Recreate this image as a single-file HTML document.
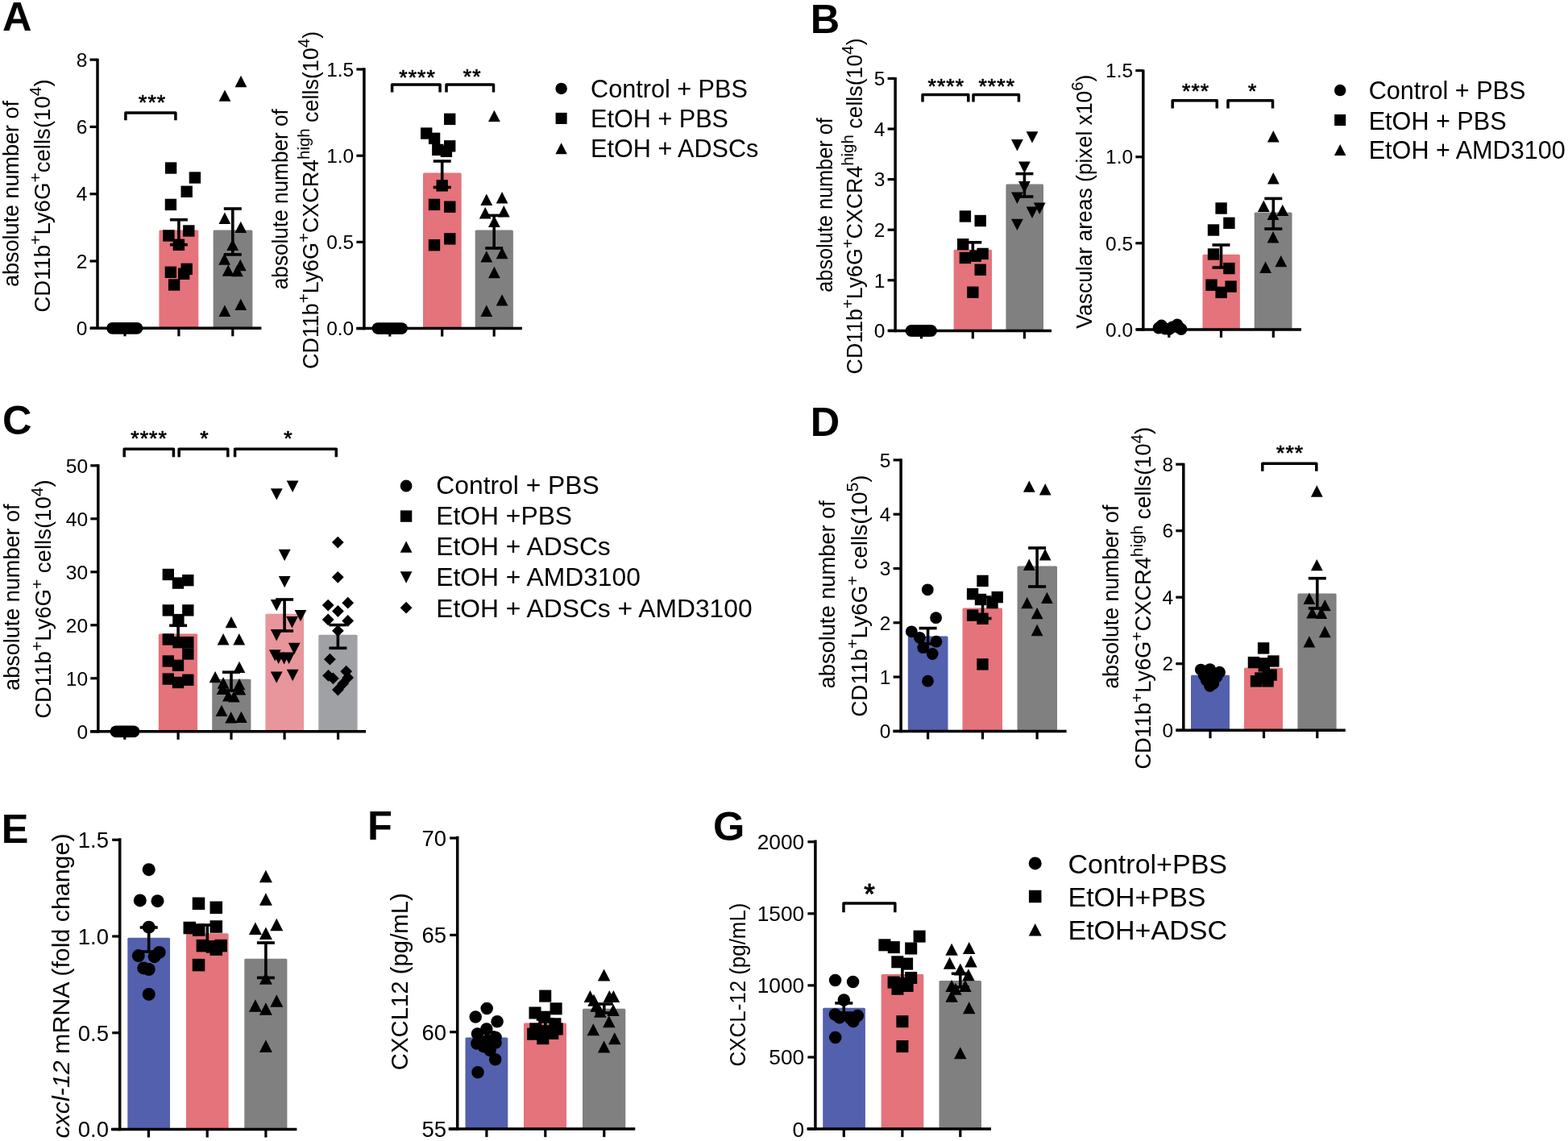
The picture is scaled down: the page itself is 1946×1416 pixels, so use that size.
<!DOCTYPE html>
<html><head><meta charset="utf-8"><title>Figure</title>
<style>html,body{margin:0;padding:0;background:#fff;}svg{display:block;}</style>
</head><body>
<svg width="1946" height="1416" viewBox="0 0 1946 1416" font-family="Liberation Sans, Arial, Helvetica, sans-serif">
<rect width="1946" height="1416" fill="#fff"/>
<rect x="197.4" y="285.5" width="48.9" height="121.8" fill="#E4737B" rx="1.5"/>
<rect x="264.6" y="285.5" width="48.8" height="121.8" fill="#808080" rx="1.5"/>
<line x1="121" y1="72.8" x2="121" y2="409.05" stroke="#000" stroke-width="3.5"/>
<line x1="112" y1="407.3" x2="324.4" y2="407.3" stroke="#000" stroke-width="3.5"/>
<line x1="111.5" y1="407.3" x2="121" y2="407.3" stroke="#000" stroke-width="3.2"/>
<text x="108.3" y="416.07" font-size="24.5" text-anchor="end">0</text>
<line x1="111.5" y1="324" x2="121" y2="324" stroke="#000" stroke-width="3.2"/>
<text x="108.3" y="332.77" font-size="24.5" text-anchor="end">2</text>
<line x1="111.5" y1="240.7" x2="121" y2="240.7" stroke="#000" stroke-width="3.2"/>
<text x="108.3" y="249.47" font-size="24.5" text-anchor="end">4</text>
<line x1="111.5" y1="157.4" x2="121" y2="157.4" stroke="#000" stroke-width="3.2"/>
<text x="108.3" y="166.17" font-size="24.5" text-anchor="end">6</text>
<line x1="111.5" y1="74.1" x2="121" y2="74.1" stroke="#000" stroke-width="3.2"/>
<text x="108.3" y="82.87" font-size="24.5" text-anchor="end">8</text>
<line x1="155" y1="407.3" x2="155" y2="417.3" stroke="#000" stroke-width="3.2"/>
<line x1="221.9" y1="407.3" x2="221.9" y2="417.3" stroke="#000" stroke-width="3.2"/>
<line x1="288.8" y1="407.3" x2="288.8" y2="417.3" stroke="#000" stroke-width="3.2"/>
<line x1="221.9" y1="272.7" x2="221.9" y2="303.7" stroke="#000" stroke-width="3.6"/>
<line x1="210.9" y1="272.7" x2="232.9" y2="272.7" stroke="#000" stroke-width="3.6"/>
<line x1="210.9" y1="303.7" x2="232.9" y2="303.7" stroke="#000" stroke-width="3.6"/>
<line x1="288.8" y1="259" x2="288.8" y2="315.9" stroke="#000" stroke-width="3.6"/>
<line x1="277.8" y1="259" x2="299.8" y2="259" stroke="#000" stroke-width="3.6"/>
<line x1="277.8" y1="315.9" x2="299.8" y2="315.9" stroke="#000" stroke-width="3.6"/>
<g fill="#000">
<circle cx="139.5" cy="407.3" r="7.4"/>
<circle cx="142.89" cy="407.3" r="7.4"/>
<circle cx="146.28" cy="407.3" r="7.4"/>
<circle cx="149.67" cy="407.3" r="7.4"/>
<circle cx="153.06" cy="407.3" r="7.4"/>
<circle cx="156.44" cy="407.3" r="7.4"/>
<circle cx="159.83" cy="407.3" r="7.4"/>
<circle cx="163.22" cy="407.3" r="7.4"/>
<circle cx="166.61" cy="407.3" r="7.4"/>
<circle cx="170" cy="407.3" r="7.4"/>
<rect x="204.92" y="201.32" width="14.36" height="14.36"/>
<rect x="234.72" y="213.32" width="14.36" height="14.36"/>
<rect x="224.52" y="230.62" width="14.36" height="14.36"/>
<rect x="204.72" y="246.72" width="14.36" height="14.36"/>
<rect x="202.22" y="285.32" width="14.36" height="14.36"/>
<rect x="227.12" y="279.32" width="14.36" height="14.36"/>
<rect x="214.72" y="296.62" width="14.36" height="14.36"/>
<rect x="204.72" y="330.62" width="14.36" height="14.36"/>
<rect x="224.52" y="326.72" width="14.36" height="14.36"/>
<rect x="220.92" y="332.62" width="14.36" height="14.36"/>
<rect x="208.92" y="346.32" width="14.36" height="14.36"/>
<path d="M279 111.42L286.4 125.78L271.6 125.78Z"/>
<path d="M299 93.82L306.4 108.18L291.6 108.18Z"/>
<path d="M278.9 263.52L286.3 277.88L271.5 277.88Z"/>
<path d="M298.8 274.72L306.2 289.08L291.4 289.08Z"/>
<path d="M288.7 296.62L296.1 310.98L281.3 310.98Z"/>
<path d="M278.6 314.32L286 328.68L271.2 328.68Z"/>
<path d="M283.2 328.32L290.6 342.68L275.8 342.68Z"/>
<path d="M298.3 321.82L305.7 336.18L290.9 336.18Z"/>
<path d="M294.4 328.82L301.8 343.18L287 343.18Z"/>
<path d="M278.9 378.52L286.3 392.88L271.5 392.88Z"/>
<path d="M298.8 370.72L306.2 385.08L291.4 385.08Z"/>
</g>
<path d="M155.9 149.3V140H217.9V149.3" fill="none" stroke="#000" stroke-width="3.5" stroke-linejoin="round"/>
<text x="189.15" y="135.79" font-size="26.5" text-anchor="middle" stroke="#000" stroke-width="0.7" stroke-linejoin="round" letter-spacing="1.1">***</text>
<rect x="525" y="214.5" width="47.7" height="193.1" fill="#E4737B" rx="1.5"/>
<rect x="589.7" y="285.5" width="47.2" height="122.1" fill="#808080" rx="1.5"/>
<line x1="451.9" y1="84.2" x2="451.9" y2="409.35" stroke="#000" stroke-width="3.5"/>
<line x1="442.5" y1="407.6" x2="647.9" y2="407.6" stroke="#000" stroke-width="3.5"/>
<line x1="442.4" y1="407.6" x2="451.9" y2="407.6" stroke="#000" stroke-width="3.2"/>
<text x="439.2" y="416.37" font-size="24.5" text-anchor="end">0.0</text>
<line x1="442.4" y1="300.4" x2="451.9" y2="300.4" stroke="#000" stroke-width="3.2"/>
<text x="439.2" y="309.17" font-size="24.5" text-anchor="end">0.5</text>
<line x1="442.4" y1="193.2" x2="451.9" y2="193.2" stroke="#000" stroke-width="3.2"/>
<text x="439.2" y="201.97" font-size="24.5" text-anchor="end">1.0</text>
<line x1="442.4" y1="86" x2="451.9" y2="86" stroke="#000" stroke-width="3.2"/>
<text x="439.2" y="94.77" font-size="24.5" text-anchor="end">1.5</text>
<line x1="483.8" y1="407.6" x2="483.8" y2="417.6" stroke="#000" stroke-width="3.2"/>
<line x1="548.7" y1="407.6" x2="548.7" y2="417.6" stroke="#000" stroke-width="3.2"/>
<line x1="613.2" y1="407.6" x2="613.2" y2="417.6" stroke="#000" stroke-width="3.2"/>
<line x1="548.7" y1="200" x2="548.7" y2="232.5" stroke="#000" stroke-width="3.6"/>
<line x1="537.7" y1="200" x2="559.7" y2="200" stroke="#000" stroke-width="3.6"/>
<line x1="537.7" y1="232.5" x2="559.7" y2="232.5" stroke="#000" stroke-width="3.6"/>
<line x1="613.2" y1="267.4" x2="613.2" y2="308" stroke="#000" stroke-width="3.6"/>
<line x1="602.2" y1="267.4" x2="624.2" y2="267.4" stroke="#000" stroke-width="3.6"/>
<line x1="602.2" y1="308" x2="624.2" y2="308" stroke="#000" stroke-width="3.6"/>
<g fill="#000">
<circle cx="469" cy="407.6" r="7.4"/>
<circle cx="472.28" cy="407.6" r="7.4"/>
<circle cx="475.56" cy="407.6" r="7.4"/>
<circle cx="478.83" cy="407.6" r="7.4"/>
<circle cx="482.11" cy="407.6" r="7.4"/>
<circle cx="485.39" cy="407.6" r="7.4"/>
<circle cx="488.67" cy="407.6" r="7.4"/>
<circle cx="491.94" cy="407.6" r="7.4"/>
<circle cx="495.22" cy="407.6" r="7.4"/>
<circle cx="498.5" cy="407.6" r="7.4"/>
<rect x="551.02" y="140.62" width="14.36" height="14.36"/>
<rect x="522.02" y="158.32" width="14.36" height="14.36"/>
<rect x="531.92" y="164.62" width="14.36" height="14.36"/>
<rect x="536.12" y="178.72" width="14.36" height="14.36"/>
<rect x="551.02" y="174.12" width="14.36" height="14.36"/>
<rect x="546.72" y="180.62" width="14.36" height="14.36"/>
<rect x="541.52" y="223.22" width="14.36" height="14.36"/>
<rect x="531.82" y="246.72" width="14.36" height="14.36"/>
<rect x="551.12" y="249.52" width="14.36" height="14.36"/>
<rect x="551.12" y="289.22" width="14.36" height="14.36"/>
<rect x="531.82" y="297.02" width="14.36" height="14.36"/>
<path d="M613.4 136.72L620.8 151.08L606 151.08Z"/>
<path d="M603.8 240.62L611.2 254.98L596.4 254.98Z"/>
<path d="M623.1 238.12L630.5 252.48L615.7 252.48Z"/>
<path d="M602.2 257.02L609.6 271.38L594.8 271.38Z"/>
<path d="M625.3 255.02L632.7 269.38L617.9 269.38Z"/>
<path d="M613.4 267.72L620.8 282.08L606 282.08Z"/>
<path d="M603.8 311.22L611.2 325.58L596.4 325.58Z"/>
<path d="M623.1 306.82L630.5 321.18L615.7 321.18Z"/>
<path d="M613.4 330.82L620.8 345.18L606 345.18Z"/>
<path d="M623.1 365.22L630.5 379.58L615.7 379.58Z"/>
<path d="M603.8 378.62L611.2 392.98L596.4 392.98Z"/>
</g>
<path d="M486.6 114.6V105H546.1V114.6" fill="none" stroke="#000" stroke-width="3.5" stroke-linejoin="round"/>
<text x="518.05" y="105.29" font-size="26.5" text-anchor="middle" stroke="#000" stroke-width="0.7" stroke-linejoin="round" letter-spacing="1.1">****</text>
<path d="M554 114.6V105H612.5V114.6" fill="none" stroke="#000" stroke-width="3.5" stroke-linejoin="round"/>
<text x="586.25" y="103.99" font-size="26.5" text-anchor="middle" stroke="#000" stroke-width="0.7" stroke-linejoin="round" letter-spacing="1.1">**</text>
<rect x="1183.6" y="309.8" width="47.4" height="100.6" fill="#E4737B" rx="1.5"/>
<rect x="1248.4" y="228.4" width="46.6" height="182" fill="#808080" rx="1.5"/>
<line x1="1111.1" y1="96" x2="1111.1" y2="412.15" stroke="#000" stroke-width="3.5"/>
<line x1="1102.3" y1="410.4" x2="1305" y2="410.4" stroke="#000" stroke-width="3.5"/>
<line x1="1101.6" y1="410.4" x2="1111.1" y2="410.4" stroke="#000" stroke-width="3.2"/>
<text x="1098.4" y="419.17" font-size="24.5" text-anchor="end">0</text>
<line x1="1101.6" y1="347.8" x2="1111.1" y2="347.8" stroke="#000" stroke-width="3.2"/>
<text x="1098.4" y="356.57" font-size="24.5" text-anchor="end">1</text>
<line x1="1101.6" y1="285.2" x2="1111.1" y2="285.2" stroke="#000" stroke-width="3.2"/>
<text x="1098.4" y="293.97" font-size="24.5" text-anchor="end">2</text>
<line x1="1101.6" y1="222.6" x2="1111.1" y2="222.6" stroke="#000" stroke-width="3.2"/>
<text x="1098.4" y="231.37" font-size="24.5" text-anchor="end">3</text>
<line x1="1101.6" y1="160" x2="1111.1" y2="160" stroke="#000" stroke-width="3.2"/>
<text x="1098.4" y="168.77" font-size="24.5" text-anchor="end">4</text>
<line x1="1101.6" y1="97.4" x2="1111.1" y2="97.4" stroke="#000" stroke-width="3.2"/>
<text x="1098.4" y="106.17" font-size="24.5" text-anchor="end">5</text>
<line x1="1143.5" y1="410.4" x2="1143.5" y2="420.4" stroke="#000" stroke-width="3.2"/>
<line x1="1207.3" y1="410.4" x2="1207.3" y2="420.4" stroke="#000" stroke-width="3.2"/>
<line x1="1271.4" y1="410.4" x2="1271.4" y2="420.4" stroke="#000" stroke-width="3.2"/>
<line x1="1207.3" y1="300.8" x2="1207.3" y2="319" stroke="#000" stroke-width="3.6"/>
<line x1="1196.3" y1="300.8" x2="1218.3" y2="300.8" stroke="#000" stroke-width="3.6"/>
<line x1="1196.3" y1="319" x2="1218.3" y2="319" stroke="#000" stroke-width="3.6"/>
<line x1="1271.4" y1="215.6" x2="1271.4" y2="244" stroke="#000" stroke-width="3.6"/>
<line x1="1260.4" y1="215.6" x2="1282.4" y2="215.6" stroke="#000" stroke-width="3.6"/>
<line x1="1260.4" y1="244" x2="1282.4" y2="244" stroke="#000" stroke-width="3.6"/>
<g fill="#000">
<circle cx="1131" cy="410.4" r="7.4"/>
<circle cx="1133.72" cy="410.4" r="7.4"/>
<circle cx="1136.44" cy="410.4" r="7.4"/>
<circle cx="1139.17" cy="410.4" r="7.4"/>
<circle cx="1141.89" cy="410.4" r="7.4"/>
<circle cx="1144.61" cy="410.4" r="7.4"/>
<circle cx="1147.33" cy="410.4" r="7.4"/>
<circle cx="1150.06" cy="410.4" r="7.4"/>
<circle cx="1152.78" cy="410.4" r="7.4"/>
<circle cx="1155.5" cy="410.4" r="7.4"/>
<rect x="1190.72" y="261.32" width="14.36" height="14.36"/>
<rect x="1209.52" y="266.82" width="14.36" height="14.36"/>
<rect x="1188.02" y="296.02" width="14.36" height="14.36"/>
<rect x="1212.42" y="307.72" width="14.36" height="14.36"/>
<rect x="1190.72" y="312.82" width="14.36" height="14.36"/>
<rect x="1203.42" y="310.52" width="14.36" height="14.36"/>
<rect x="1209.52" y="327.62" width="14.36" height="14.36"/>
<rect x="1200.22" y="355.52" width="14.36" height="14.36"/>
<path d="M1281 177.58L1288.4 163.22L1273.6 163.22Z"/>
<path d="M1262.4 187.38L1269.8 173.02L1255 173.02Z"/>
<path d="M1271.4 214.88L1278.8 200.52L1264 200.52Z"/>
<path d="M1271.4 239.48L1278.8 225.12L1264 225.12Z"/>
<path d="M1262.4 252.98L1269.8 238.62L1255 238.62Z"/>
<path d="M1290.2 265.98L1297.6 251.62L1282.8 251.62Z"/>
<path d="M1281 270.88L1288.4 256.52L1273.6 256.52Z"/>
<path d="M1262.4 286.08L1269.8 271.72L1255 271.72Z"/>
</g>
<path d="M1145 126.6V117.6H1201.8V126.6" fill="none" stroke="#000" stroke-width="3.5" stroke-linejoin="round"/>
<text x="1174.35" y="115.79" font-size="26.5" text-anchor="middle" stroke="#000" stroke-width="0.7" stroke-linejoin="round" letter-spacing="1.1">****</text>
<path d="M1208 126.6V117.6H1264.4V126.6" fill="none" stroke="#000" stroke-width="3.5" stroke-linejoin="round"/>
<text x="1237.25" y="115.79" font-size="26.5" text-anchor="middle" stroke="#000" stroke-width="0.7" stroke-linejoin="round" letter-spacing="1.1">****</text>
<rect x="1492.5" y="315.8" width="46.4" height="93.1" fill="#E4737B" rx="1.5"/>
<rect x="1556.7" y="263.5" width="46.8" height="145.4" fill="#808080" rx="1.5"/>
<line x1="1418.8" y1="86.4" x2="1418.8" y2="410.65" stroke="#000" stroke-width="3.5"/>
<line x1="1410.4" y1="408.9" x2="1615" y2="408.9" stroke="#000" stroke-width="3.5"/>
<line x1="1409.3" y1="408.9" x2="1418.8" y2="408.9" stroke="#000" stroke-width="3.2"/>
<text x="1406.1" y="417.67" font-size="24.5" text-anchor="end">0.0</text>
<line x1="1409.3" y1="301.8" x2="1418.8" y2="301.8" stroke="#000" stroke-width="3.2"/>
<text x="1406.1" y="310.57" font-size="24.5" text-anchor="end">0.5</text>
<line x1="1409.3" y1="194.7" x2="1418.8" y2="194.7" stroke="#000" stroke-width="3.2"/>
<text x="1406.1" y="203.47" font-size="24.5" text-anchor="end">1.0</text>
<line x1="1409.3" y1="87.6" x2="1418.8" y2="87.6" stroke="#000" stroke-width="3.2"/>
<text x="1406.1" y="96.37" font-size="24.5" text-anchor="end">1.5</text>
<line x1="1450.8" y1="408.9" x2="1450.8" y2="418.9" stroke="#000" stroke-width="3.2"/>
<line x1="1515.5" y1="408.9" x2="1515.5" y2="418.9" stroke="#000" stroke-width="3.2"/>
<line x1="1580.3" y1="408.9" x2="1580.3" y2="418.9" stroke="#000" stroke-width="3.2"/>
<line x1="1515.5" y1="304" x2="1515.5" y2="332" stroke="#000" stroke-width="3.6"/>
<line x1="1504.5" y1="304" x2="1526.5" y2="304" stroke="#000" stroke-width="3.6"/>
<line x1="1504.5" y1="332" x2="1526.5" y2="332" stroke="#000" stroke-width="3.6"/>
<line x1="1580.3" y1="246.4" x2="1580.3" y2="284" stroke="#000" stroke-width="3.6"/>
<line x1="1569.3" y1="246.4" x2="1591.3" y2="246.4" stroke="#000" stroke-width="3.6"/>
<line x1="1569.3" y1="284" x2="1591.3" y2="284" stroke="#000" stroke-width="3.6"/>
<g fill="#000">
<circle cx="1438" cy="407" r="7.4"/>
<circle cx="1441.5" cy="404" r="7.4"/>
<circle cx="1446" cy="408" r="7.4"/>
<circle cx="1451" cy="408.5" r="7.4"/>
<circle cx="1455" cy="406" r="7.4"/>
<circle cx="1461" cy="403" r="7.4"/>
<circle cx="1464" cy="407" r="7.4"/>
<circle cx="1466" cy="408.5" r="7.4"/>
<rect x="1508.42" y="251.32" width="14.36" height="14.36"/>
<rect x="1518.22" y="269.62" width="14.36" height="14.36"/>
<rect x="1498.82" y="278.32" width="14.36" height="14.36"/>
<rect x="1498.82" y="308.32" width="14.36" height="14.36"/>
<rect x="1518.22" y="325.92" width="14.36" height="14.36"/>
<rect x="1496.32" y="346.52" width="14.36" height="14.36"/>
<rect x="1520.42" y="348.42" width="14.36" height="14.36"/>
<rect x="1508.42" y="355.72" width="14.36" height="14.36"/>
<path d="M1580.3 162.12L1587.7 176.48L1572.9 176.48Z"/>
<path d="M1580.3 214.02L1587.7 228.38L1572.9 228.38Z"/>
<path d="M1568.3 248.52L1575.7 262.88L1560.9 262.88Z"/>
<path d="M1591.8 253.72L1599.2 268.08L1584.4 268.08Z"/>
<path d="M1580 258.72L1587.4 273.08L1572.6 273.08Z"/>
<path d="M1580 287.12L1587.4 301.48L1572.6 301.48Z"/>
<path d="M1589.8 316.92L1597.2 331.28L1582.4 331.28Z"/>
<path d="M1570.6 324.62L1578 338.98L1563.2 338.98Z"/>
</g>
<path d="M1455.2 134.4V124.8H1510.3V134.4" fill="none" stroke="#000" stroke-width="3.5" stroke-linejoin="round"/>
<text x="1484.15" y="122.19" font-size="26.5" text-anchor="middle" stroke="#000" stroke-width="0.7" stroke-linejoin="round" letter-spacing="1.1">***</text>
<path d="M1524 134.4V124.8H1579.5V134.4" fill="none" stroke="#000" stroke-width="3.5" stroke-linejoin="round"/>
<text x="1554.2" y="122.19" font-size="26.5" text-anchor="middle" stroke="#000" stroke-width="0.7" stroke-linejoin="round" letter-spacing="0">*</text>
<rect x="196.8" y="786.4" width="48.3" height="121.4" fill="#E4737B" rx="1.5"/>
<rect x="263.2" y="842.7" width="48.2" height="65.1" fill="#808080" rx="1.5"/>
<rect x="329.4" y="761.8" width="47.7" height="146" fill="#E8969C" rx="1.5"/>
<rect x="395.3" y="787.8" width="48.3" height="120" fill="#A0A1A5" rx="1.5"/>
<line x1="121.8" y1="576.3" x2="121.8" y2="909.55" stroke="#000" stroke-width="3.5"/>
<line x1="112" y1="907.8" x2="454" y2="907.8" stroke="#000" stroke-width="3.5"/>
<line x1="112.3" y1="907.8" x2="121.8" y2="907.8" stroke="#000" stroke-width="3.2"/>
<text x="109.1" y="916.57" font-size="24.5" text-anchor="end">0</text>
<line x1="112.3" y1="841.8" x2="121.8" y2="841.8" stroke="#000" stroke-width="3.2"/>
<text x="109.1" y="850.57" font-size="24.5" text-anchor="end">10</text>
<line x1="112.3" y1="775.8" x2="121.8" y2="775.8" stroke="#000" stroke-width="3.2"/>
<text x="109.1" y="784.57" font-size="24.5" text-anchor="end">20</text>
<line x1="112.3" y1="709.8" x2="121.8" y2="709.8" stroke="#000" stroke-width="3.2"/>
<text x="109.1" y="718.57" font-size="24.5" text-anchor="end">30</text>
<line x1="112.3" y1="643.8" x2="121.8" y2="643.8" stroke="#000" stroke-width="3.2"/>
<text x="109.1" y="652.57" font-size="24.5" text-anchor="end">40</text>
<line x1="112.3" y1="577.8" x2="121.8" y2="577.8" stroke="#000" stroke-width="3.2"/>
<text x="109.1" y="586.57" font-size="24.5" text-anchor="end">50</text>
<line x1="154.8" y1="907.8" x2="154.8" y2="917.8" stroke="#000" stroke-width="3.2"/>
<line x1="221.1" y1="907.8" x2="221.1" y2="917.8" stroke="#000" stroke-width="3.2"/>
<line x1="287" y1="907.8" x2="287" y2="917.8" stroke="#000" stroke-width="3.2"/>
<line x1="353.1" y1="907.8" x2="353.1" y2="917.8" stroke="#000" stroke-width="3.2"/>
<line x1="419.6" y1="907.8" x2="419.6" y2="917.8" stroke="#000" stroke-width="3.2"/>
<line x1="221.1" y1="776.3" x2="221.1" y2="796.5" stroke="#000" stroke-width="3.6"/>
<line x1="210.1" y1="776.3" x2="232.1" y2="776.3" stroke="#000" stroke-width="3.6"/>
<line x1="210.1" y1="796.5" x2="232.1" y2="796.5" stroke="#000" stroke-width="3.6"/>
<line x1="287" y1="834.2" x2="287" y2="857" stroke="#000" stroke-width="3.6"/>
<line x1="276" y1="834.2" x2="298" y2="834.2" stroke="#000" stroke-width="3.6"/>
<line x1="276" y1="857" x2="298" y2="857" stroke="#000" stroke-width="3.6"/>
<line x1="353.1" y1="744" x2="353.1" y2="783" stroke="#000" stroke-width="3.6"/>
<line x1="342.1" y1="744" x2="364.1" y2="744" stroke="#000" stroke-width="3.6"/>
<line x1="342.1" y1="783" x2="364.1" y2="783" stroke="#000" stroke-width="3.6"/>
<line x1="419.4" y1="775.6" x2="419.4" y2="804.3" stroke="#000" stroke-width="3.6"/>
<line x1="408.4" y1="775.6" x2="430.4" y2="775.6" stroke="#000" stroke-width="3.6"/>
<line x1="408.4" y1="804.3" x2="430.4" y2="804.3" stroke="#000" stroke-width="3.6"/>
<g fill="#000">
<circle cx="144" cy="907.8" r="7.4"/>
<circle cx="146.44" cy="907.8" r="7.4"/>
<circle cx="148.89" cy="907.8" r="7.4"/>
<circle cx="151.33" cy="907.8" r="7.4"/>
<circle cx="153.78" cy="907.8" r="7.4"/>
<circle cx="156.22" cy="907.8" r="7.4"/>
<circle cx="158.67" cy="907.8" r="7.4"/>
<circle cx="161.11" cy="907.8" r="7.4"/>
<circle cx="163.56" cy="907.8" r="7.4"/>
<circle cx="166" cy="907.8" r="7.4"/>
<rect x="201.62" y="705.82" width="14.36" height="14.36"/>
<rect x="226.12" y="713.02" width="14.36" height="14.36"/>
<rect x="213.82" y="716.42" width="14.36" height="14.36"/>
<rect x="201.62" y="750.22" width="14.36" height="14.36"/>
<rect x="226.12" y="750.22" width="14.36" height="14.36"/>
<rect x="214.22" y="761.92" width="14.36" height="14.36"/>
<rect x="201.62" y="786.32" width="14.36" height="14.36"/>
<rect x="214.32" y="790.02" width="14.36" height="14.36"/>
<rect x="226.12" y="790.02" width="14.36" height="14.36"/>
<rect x="226.12" y="804.32" width="14.36" height="14.36"/>
<rect x="201.62" y="813.32" width="14.36" height="14.36"/>
<rect x="213.82" y="818.62" width="14.36" height="14.36"/>
<rect x="201.62" y="835.42" width="14.36" height="14.36"/>
<rect x="226.12" y="836.62" width="14.36" height="14.36"/>
<rect x="213.82" y="839.82" width="14.36" height="14.36"/>
<path d="M287 764.92L294.4 779.28L279.6 779.28Z"/>
<path d="M277.1 786.12L284.5 800.48L269.7 800.48Z"/>
<path d="M296.8 786.12L304.2 800.48L289.4 800.48Z"/>
<path d="M297 820.72L304.4 835.08L289.6 835.08Z"/>
<path d="M267.1 832.92L274.5 847.28L259.7 847.28Z"/>
<path d="M277.1 840.32L284.5 854.68L269.7 854.68Z"/>
<path d="M297 841.92L304.4 856.28L289.6 856.28Z"/>
<path d="M276.1 847.72L283.5 862.08L268.7 862.08Z"/>
<path d="M297.8 848.22L305.2 862.58L290.4 862.58Z"/>
<path d="M283.5 856.22L290.9 870.58L276.1 870.58Z"/>
<path d="M290.4 857.22L297.8 871.58L283 871.58Z"/>
<path d="M275 874.72L282.4 889.08L267.6 889.08Z"/>
<path d="M286.7 883.22L294.1 897.58L279.3 897.58Z"/>
<path d="M299.4 882.72L306.8 897.08L292 897.08Z"/>
<path d="M363.1 610.98L370.5 596.62L355.7 596.62Z"/>
<path d="M343.3 620.58L350.7 606.22L335.9 606.22Z"/>
<path d="M353.2 696.18L360.6 681.82L345.8 681.82Z"/>
<path d="M353.2 729.28L360.6 714.92L345.8 714.92Z"/>
<path d="M343.2 758.28L350.6 743.92L335.8 743.92Z"/>
<path d="M373 771.28L380.4 756.92L365.6 756.92Z"/>
<path d="M362.5 779.38L369.9 765.02L355.1 765.02Z"/>
<path d="M343.2 795.38L350.6 781.02L335.8 781.02Z"/>
<path d="M365.2 812.18L372.6 797.82L357.8 797.82Z"/>
<path d="M341.3 820.58L348.7 806.22L333.9 806.22Z"/>
<path d="M345.7 823.88L353.1 809.52L338.3 809.52Z"/>
<path d="M352.6 824.38L360 810.02L345.2 810.02Z"/>
<path d="M358.6 823.88L366 809.52L351.2 809.52Z"/>
<path d="M343.2 847.78L350.6 833.42L335.8 833.42Z"/>
<path d="M363.2 845.18L370.6 830.82L355.8 830.82Z"/>
<path d="M419.3 665.7L426.7 673.1L419.3 680.5L411.9 673.1Z"/>
<path d="M419.3 708.9L426.7 716.3L419.3 723.7L411.9 716.3Z"/>
<path d="M407.2 743.7L414.6 751.1L407.2 758.5L399.8 751.1Z"/>
<path d="M431.7 740.8L439.1 748.2L431.7 755.6L424.3 748.2Z"/>
<path d="M419.4 751.1L426.8 758.5L419.4 765.9L412 758.5Z"/>
<path d="M407.2 761.5L414.6 768.9L407.2 776.3L399.8 768.9Z"/>
<path d="M431.7 763L439.1 770.4L431.7 777.8L424.3 770.4Z"/>
<path d="M419.4 775.4L426.8 782.8L419.4 790.2L412 782.8Z"/>
<path d="M409.4 810.8L416.8 818.2L409.4 825.6L402 818.2Z"/>
<path d="M407.5 831L414.9 838.4L407.5 845.8L400.1 838.4Z"/>
<path d="M413.4 834.5L420.8 841.9L413.4 849.3L406 841.9Z"/>
<path d="M429.7 825.8L437.1 833.2L429.7 840.6L422.3 833.2Z"/>
<path d="M431.7 833.5L439.1 840.9L431.7 848.3L424.3 840.9Z"/>
<path d="M425.8 840.9L433.2 848.3L425.8 855.7L418.4 848.3Z"/>
<path d="M419.4 848.6L426.8 856L419.4 863.4L412 856Z"/>
</g>
<path d="M154.2 567.3V557.2H215.4V567.3" fill="none" stroke="#000" stroke-width="3.5" stroke-linejoin="round"/>
<text x="185.05" y="553.39" font-size="26.5" text-anchor="middle" stroke="#000" stroke-width="0.7" stroke-linejoin="round" letter-spacing="1.1">****</text>
<path d="M222.2 567.3V557.2H282.8V567.3" fill="none" stroke="#000" stroke-width="3.5" stroke-linejoin="round"/>
<text x="253.5" y="553.39" font-size="26.5" text-anchor="middle" stroke="#000" stroke-width="0.7" stroke-linejoin="round" letter-spacing="0">*</text>
<path d="M291.6 567.3V557.2H417.3V567.3" fill="none" stroke="#000" stroke-width="3.5" stroke-linejoin="round"/>
<text x="357.5" y="553.39" font-size="26.5" text-anchor="middle" stroke="#000" stroke-width="0.7" stroke-linejoin="round" letter-spacing="0">*</text>
<rect x="1126.8" y="789.4" width="49.7" height="118" fill="#5360AE" rx="1.5"/>
<rect x="1194.5" y="754.4" width="49.5" height="153" fill="#E4737B" rx="1.5"/>
<rect x="1262.5" y="702.4" width="49.5" height="205" fill="#808080" rx="1.5"/>
<line x1="1118.1" y1="569.3" x2="1118.1" y2="909.15" stroke="#000" stroke-width="3.5"/>
<line x1="1108.5" y1="907.4" x2="1323.6" y2="907.4" stroke="#000" stroke-width="3.5"/>
<line x1="1108.6" y1="907.4" x2="1118.1" y2="907.4" stroke="#000" stroke-width="3.2"/>
<text x="1105.4" y="916.17" font-size="24.5" text-anchor="end">0</text>
<line x1="1108.6" y1="840.1" x2="1118.1" y2="840.1" stroke="#000" stroke-width="3.2"/>
<text x="1105.4" y="848.87" font-size="24.5" text-anchor="end">1</text>
<line x1="1108.6" y1="772.8" x2="1118.1" y2="772.8" stroke="#000" stroke-width="3.2"/>
<text x="1105.4" y="781.57" font-size="24.5" text-anchor="end">2</text>
<line x1="1108.6" y1="705.5" x2="1118.1" y2="705.5" stroke="#000" stroke-width="3.2"/>
<text x="1105.4" y="714.27" font-size="24.5" text-anchor="end">3</text>
<line x1="1108.6" y1="638.2" x2="1118.1" y2="638.2" stroke="#000" stroke-width="3.2"/>
<text x="1105.4" y="646.97" font-size="24.5" text-anchor="end">4</text>
<line x1="1108.6" y1="570.9" x2="1118.1" y2="570.9" stroke="#000" stroke-width="3.2"/>
<text x="1105.4" y="579.67" font-size="24.5" text-anchor="end">5</text>
<line x1="1151.6" y1="907.4" x2="1151.6" y2="917.4" stroke="#000" stroke-width="3.2"/>
<line x1="1219.5" y1="907.4" x2="1219.5" y2="917.4" stroke="#000" stroke-width="3.2"/>
<line x1="1287.1" y1="907.4" x2="1287.1" y2="917.4" stroke="#000" stroke-width="3.2"/>
<line x1="1151.6" y1="779.6" x2="1151.6" y2="799" stroke="#000" stroke-width="3.6"/>
<line x1="1140.6" y1="779.6" x2="1162.6" y2="779.6" stroke="#000" stroke-width="3.6"/>
<line x1="1140.6" y1="799" x2="1162.6" y2="799" stroke="#000" stroke-width="3.6"/>
<line x1="1219.5" y1="741" x2="1219.5" y2="767.5" stroke="#000" stroke-width="3.6"/>
<line x1="1208.5" y1="741" x2="1230.5" y2="741" stroke="#000" stroke-width="3.6"/>
<line x1="1208.5" y1="767.5" x2="1230.5" y2="767.5" stroke="#000" stroke-width="3.6"/>
<line x1="1287.1" y1="680" x2="1287.1" y2="728" stroke="#000" stroke-width="3.6"/>
<line x1="1276.1" y1="680" x2="1298.1" y2="680" stroke="#000" stroke-width="3.6"/>
<line x1="1276.1" y1="728" x2="1298.1" y2="728" stroke="#000" stroke-width="3.6"/>
<g fill="#000">
<circle cx="1151.3" cy="731.8" r="7.4"/>
<circle cx="1161.6" cy="766.7" r="7.4"/>
<circle cx="1131.3" cy="783.8" r="7.4"/>
<circle cx="1141.4" cy="791.3" r="7.4"/>
<circle cx="1162" cy="796.2" r="7.4"/>
<circle cx="1145.7" cy="803.7" r="7.4"/>
<circle cx="1157.2" cy="811.5" r="7.4"/>
<circle cx="1151.5" cy="845.2" r="7.4"/>
<rect x="1212.32" y="713.72" width="14.36" height="14.36"/>
<rect x="1199.92" y="730.02" width="14.36" height="14.36"/>
<rect x="1230.52" y="733.92" width="14.36" height="14.36"/>
<rect x="1209.82" y="736.82" width="14.36" height="14.36"/>
<rect x="1224.32" y="740.92" width="14.36" height="14.36"/>
<rect x="1199.92" y="756.42" width="14.36" height="14.36"/>
<rect x="1212.32" y="760.62" width="14.36" height="14.36"/>
<rect x="1212.32" y="817.22" width="14.36" height="14.36"/>
<path d="M1277.3 596.42L1284.7 610.78L1269.9 610.78Z"/>
<path d="M1297.2 600.02L1304.6 614.38L1289.8 614.38Z"/>
<path d="M1297.1 681.12L1304.5 695.48L1289.7 695.48Z"/>
<path d="M1277.3 693.52L1284.7 707.88L1269.9 707.88Z"/>
<path d="M1299.4 734.72L1306.8 749.08L1292 749.08Z"/>
<path d="M1274.7 740.92L1282.1 755.28L1267.3 755.28Z"/>
<path d="M1287.1 753.92L1294.5 768.28L1279.7 768.28Z"/>
<path d="M1287.1 774.82L1294.5 789.18L1279.7 789.18Z"/>
</g>
<rect x="1478" y="837.8" width="48" height="68.4" fill="#5360AE" rx="1.5"/>
<rect x="1544" y="828.8" width="48" height="77.4" fill="#E4737B" rx="1.5"/>
<rect x="1610.4" y="736.4" width="48.2" height="169.8" fill="#808080" rx="1.5"/>
<line x1="1468.8" y1="574.8" x2="1468.8" y2="907.95" stroke="#000" stroke-width="3.5"/>
<line x1="1459.5" y1="906.2" x2="1669.8" y2="906.2" stroke="#000" stroke-width="3.5"/>
<line x1="1459.3" y1="906.2" x2="1468.8" y2="906.2" stroke="#000" stroke-width="3.2"/>
<text x="1456.1" y="914.97" font-size="24.5" text-anchor="end">0</text>
<line x1="1459.3" y1="823.7" x2="1468.8" y2="823.7" stroke="#000" stroke-width="3.2"/>
<text x="1456.1" y="832.47" font-size="24.5" text-anchor="end">2</text>
<line x1="1459.3" y1="741.2" x2="1468.8" y2="741.2" stroke="#000" stroke-width="3.2"/>
<text x="1456.1" y="749.97" font-size="24.5" text-anchor="end">4</text>
<line x1="1459.3" y1="658.7" x2="1468.8" y2="658.7" stroke="#000" stroke-width="3.2"/>
<text x="1456.1" y="667.47" font-size="24.5" text-anchor="end">6</text>
<line x1="1459.3" y1="576.2" x2="1468.8" y2="576.2" stroke="#000" stroke-width="3.2"/>
<text x="1456.1" y="584.97" font-size="24.5" text-anchor="end">8</text>
<line x1="1502" y1="906.2" x2="1502" y2="916.2" stroke="#000" stroke-width="3.2"/>
<line x1="1568.5" y1="906.2" x2="1568.5" y2="916.2" stroke="#000" stroke-width="3.2"/>
<line x1="1634.8" y1="906.2" x2="1634.8" y2="916.2" stroke="#000" stroke-width="3.2"/>
<line x1="1502" y1="831" x2="1502" y2="845" stroke="#000" stroke-width="3.6"/>
<line x1="1491" y1="831" x2="1513" y2="831" stroke="#000" stroke-width="3.6"/>
<line x1="1491" y1="845" x2="1513" y2="845" stroke="#000" stroke-width="3.6"/>
<line x1="1568.5" y1="818" x2="1568.5" y2="840" stroke="#000" stroke-width="3.6"/>
<line x1="1557.5" y1="818" x2="1579.5" y2="818" stroke="#000" stroke-width="3.6"/>
<line x1="1557.5" y1="840" x2="1579.5" y2="840" stroke="#000" stroke-width="3.6"/>
<line x1="1634.8" y1="717.7" x2="1634.8" y2="755" stroke="#000" stroke-width="3.6"/>
<line x1="1623.8" y1="717.7" x2="1645.8" y2="717.7" stroke="#000" stroke-width="3.6"/>
<line x1="1623.8" y1="755" x2="1645.8" y2="755" stroke="#000" stroke-width="3.6"/>
<g fill="#000">
<circle cx="1490.3" cy="831.1" r="7.4"/>
<circle cx="1501.6" cy="830.6" r="7.4"/>
<circle cx="1513.6" cy="834.2" r="7.4"/>
<circle cx="1494.2" cy="838" r="7.4"/>
<circle cx="1497.3" cy="844.3" r="7.4"/>
<circle cx="1505.8" cy="848.2" r="7.4"/>
<circle cx="1501.6" cy="851.3" r="7.4"/>
<circle cx="1510" cy="840" r="7.4"/>
<rect x="1560.92" y="797.22" width="14.36" height="14.36"/>
<rect x="1548.72" y="814.92" width="14.36" height="14.36"/>
<rect x="1573.22" y="813.32" width="14.36" height="14.36"/>
<rect x="1561.62" y="819.22" width="14.36" height="14.36"/>
<rect x="1570.42" y="830.42" width="14.36" height="14.36"/>
<rect x="1557.22" y="834.32" width="14.36" height="14.36"/>
<rect x="1551.82" y="838.22" width="14.36" height="14.36"/>
<rect x="1566.42" y="838.22" width="14.36" height="14.36"/>
<path d="M1634.3 602.32L1641.7 616.68L1626.9 616.68Z"/>
<path d="M1634.3 693.92L1641.7 708.28L1626.9 708.28Z"/>
<path d="M1624.9 735.52L1632.3 749.88L1617.5 749.88Z"/>
<path d="M1644.3 743.92L1651.7 758.28L1636.9 758.28Z"/>
<path d="M1628.6 753.22L1636 767.58L1621.2 767.58Z"/>
<path d="M1639.8 753.52L1647.2 767.88L1632.4 767.88Z"/>
<path d="M1644.3 776.82L1651.7 791.18L1636.9 791.18Z"/>
<path d="M1624.9 789.22L1632.3 803.58L1617.5 803.58Z"/>
</g>
<path d="M1566.8 584.7V575.2H1633.8V584.7" fill="none" stroke="#000" stroke-width="3.5" stroke-linejoin="round"/>
<text x="1601.15" y="571.19" font-size="26.5" text-anchor="middle" stroke="#000" stroke-width="0.7" stroke-linejoin="round" letter-spacing="1.1">***</text>
<rect x="158.3" y="1163.7" width="52.7" height="237.8" fill="#5360AE" rx="1.5"/>
<rect x="231" y="1158.2" width="52.6" height="243.3" fill="#E4737B" rx="1.5"/>
<rect x="303.3" y="1189.7" width="53.1" height="211.8" fill="#808080" rx="1.5"/>
<line x1="148.7" y1="1040.3" x2="148.7" y2="1403.25" stroke="#000" stroke-width="3.5"/>
<line x1="138" y1="1401.5" x2="368.4" y2="1401.5" stroke="#000" stroke-width="3.5"/>
<line x1="139.2" y1="1401.5" x2="148.7" y2="1401.5" stroke="#000" stroke-width="3.2"/>
<text x="135" y="1411.35" font-size="27.5" text-anchor="end">0.0</text>
<line x1="139.2" y1="1281.75" x2="148.7" y2="1281.75" stroke="#000" stroke-width="3.2"/>
<text x="135" y="1291.6" font-size="27.5" text-anchor="end">0.5</text>
<line x1="139.2" y1="1162" x2="148.7" y2="1162" stroke="#000" stroke-width="3.2"/>
<text x="135" y="1171.85" font-size="27.5" text-anchor="end">1.0</text>
<line x1="139.2" y1="1042.25" x2="148.7" y2="1042.25" stroke="#000" stroke-width="3.2"/>
<text x="135" y="1052.1" font-size="27.5" text-anchor="end">1.5</text>
<line x1="184.4" y1="1401.5" x2="184.4" y2="1411.5" stroke="#000" stroke-width="3.2"/>
<line x1="257.2" y1="1401.5" x2="257.2" y2="1411.5" stroke="#000" stroke-width="3.2"/>
<line x1="329.9" y1="1401.5" x2="329.9" y2="1411.5" stroke="#000" stroke-width="3.2"/>
<line x1="184.7" y1="1151" x2="184.7" y2="1181" stroke="#000" stroke-width="3.6"/>
<line x1="173.7" y1="1151" x2="195.7" y2="1151" stroke="#000" stroke-width="3.6"/>
<line x1="173.7" y1="1181" x2="195.7" y2="1181" stroke="#000" stroke-width="3.6"/>
<line x1="257.3" y1="1148" x2="257.3" y2="1169" stroke="#000" stroke-width="3.6"/>
<line x1="246.3" y1="1148" x2="268.3" y2="1148" stroke="#000" stroke-width="3.6"/>
<line x1="246.3" y1="1169" x2="268.3" y2="1169" stroke="#000" stroke-width="3.6"/>
<line x1="329.9" y1="1170" x2="329.9" y2="1213.4" stroke="#000" stroke-width="3.6"/>
<line x1="318.9" y1="1170" x2="340.9" y2="1170" stroke="#000" stroke-width="3.6"/>
<line x1="318.9" y1="1213.4" x2="340.9" y2="1213.4" stroke="#000" stroke-width="3.6"/>
<g fill="#000">
<circle cx="184.7" cy="1079.2" r="8"/>
<circle cx="173.8" cy="1117.4" r="8"/>
<circle cx="195.5" cy="1118.2" r="8"/>
<circle cx="184.7" cy="1150.7" r="8"/>
<circle cx="171.8" cy="1186.1" r="8"/>
<circle cx="197.7" cy="1181.9" r="8"/>
<circle cx="191.6" cy="1187.2" r="8"/>
<circle cx="178.2" cy="1201.4" r="8"/>
<circle cx="184.7" cy="1203" r="8"/>
<circle cx="184.7" cy="1233.9" r="8"/>
<rect x="238.74" y="1113.54" width="15.52" height="15.52"/>
<rect x="260.54" y="1118.54" width="15.52" height="15.52"/>
<rect x="227.54" y="1143.74" width="15.52" height="15.52"/>
<rect x="238.94" y="1146.24" width="15.52" height="15.52"/>
<rect x="260.54" y="1142.24" width="15.52" height="15.52"/>
<rect x="243.64" y="1165.84" width="15.52" height="15.52"/>
<rect x="255.64" y="1167.14" width="15.52" height="15.52"/>
<rect x="266.44" y="1165.84" width="15.52" height="15.52"/>
<rect x="260.54" y="1170.34" width="15.52" height="15.52"/>
<rect x="238.74" y="1189.84" width="15.52" height="15.52"/>
<path d="M329.9 1079.74L337.9 1095.26L321.9 1095.26Z"/>
<path d="M329.9 1108.14L337.9 1123.66L321.9 1123.66Z"/>
<path d="M316.9 1144.44L324.9 1159.96L308.9 1159.96Z"/>
<path d="M343.3 1139.84L351.3 1155.36L335.3 1155.36Z"/>
<path d="M329.9 1150.44L337.9 1165.96L321.9 1165.96Z"/>
<path d="M329.9 1206.24L337.9 1221.76L321.9 1221.76Z"/>
<path d="M316.9 1240.24L324.9 1255.76L308.9 1255.76Z"/>
<path d="M343.3 1234.24L351.3 1249.76L335.3 1249.76Z"/>
<path d="M329.9 1244.14L337.9 1259.66L321.9 1259.66Z"/>
<path d="M329.9 1290.54L337.9 1306.06L321.9 1306.06Z"/>
</g>
<rect x="577.5" y="1287.5" width="52.8" height="113.6" fill="#5360AE" rx="1.5"/>
<rect x="650" y="1269.5" width="53" height="131.6" fill="#E4737B" rx="1.5"/>
<rect x="723" y="1251.7" width="53.3" height="149.4" fill="#808080" rx="1.5"/>
<line x1="567.7" y1="1037.8" x2="567.7" y2="1402.85" stroke="#000" stroke-width="3.5"/>
<line x1="556.7" y1="1401.1" x2="788.3" y2="1401.1" stroke="#000" stroke-width="3.5"/>
<line x1="558.2" y1="1401.1" x2="567.7" y2="1401.1" stroke="#000" stroke-width="3.2"/>
<text x="554" y="1410.94" font-size="27.5" text-anchor="end">55</text>
<line x1="558.2" y1="1280.75" x2="567.7" y2="1280.75" stroke="#000" stroke-width="3.2"/>
<text x="554" y="1290.6" font-size="27.5" text-anchor="end">60</text>
<line x1="558.2" y1="1160.4" x2="567.7" y2="1160.4" stroke="#000" stroke-width="3.2"/>
<text x="554" y="1170.24" font-size="27.5" text-anchor="end">65</text>
<line x1="558.2" y1="1040.05" x2="567.7" y2="1040.05" stroke="#000" stroke-width="3.2"/>
<text x="554" y="1049.89" font-size="27.5" text-anchor="end">70</text>
<line x1="603.9" y1="1401.1" x2="603.9" y2="1411.1" stroke="#000" stroke-width="3.2"/>
<line x1="676.8" y1="1401.1" x2="676.8" y2="1411.1" stroke="#000" stroke-width="3.2"/>
<line x1="749.8" y1="1401.1" x2="749.8" y2="1411.1" stroke="#000" stroke-width="3.2"/>
<line x1="603.9" y1="1281" x2="603.9" y2="1294" stroke="#000" stroke-width="3.6"/>
<line x1="592.9" y1="1281" x2="614.9" y2="1281" stroke="#000" stroke-width="3.6"/>
<line x1="592.9" y1="1294" x2="614.9" y2="1294" stroke="#000" stroke-width="3.6"/>
<line x1="676.8" y1="1265" x2="676.8" y2="1274" stroke="#000" stroke-width="3.6"/>
<line x1="665.8" y1="1265" x2="687.8" y2="1265" stroke="#000" stroke-width="3.6"/>
<line x1="665.8" y1="1274" x2="687.8" y2="1274" stroke="#000" stroke-width="3.6"/>
<line x1="749.8" y1="1246" x2="749.8" y2="1257" stroke="#000" stroke-width="3.6"/>
<line x1="738.8" y1="1246" x2="760.8" y2="1246" stroke="#000" stroke-width="3.6"/>
<line x1="738.8" y1="1257" x2="760.8" y2="1257" stroke="#000" stroke-width="3.6"/>
<g fill="#000">
<circle cx="604.2" cy="1251.4" r="7.75"/>
<circle cx="590.2" cy="1261.9" r="7.75"/>
<circle cx="617.1" cy="1267.7" r="7.75"/>
<circle cx="603.9" cy="1277" r="7.75"/>
<circle cx="592.5" cy="1282.9" r="7.75"/>
<circle cx="615.1" cy="1287.6" r="7.75"/>
<circle cx="591.8" cy="1294.9" r="7.75"/>
<circle cx="605" cy="1291" r="7.75"/>
<circle cx="615.1" cy="1294.1" r="7.75"/>
<circle cx="600.3" cy="1298.8" r="7.75"/>
<circle cx="608.1" cy="1303.4" r="7.75"/>
<circle cx="614.7" cy="1314.8" r="7.75"/>
<circle cx="593" cy="1330.8" r="7.75"/>
<rect x="669.18" y="1228.58" width="15.04" height="15.04"/>
<rect x="682.58" y="1244.28" width="15.04" height="15.04"/>
<rect x="656.48" y="1249.48" width="15.04" height="15.04"/>
<rect x="668.18" y="1254.68" width="15.04" height="15.04"/>
<rect x="681.38" y="1263.28" width="15.04" height="15.04"/>
<rect x="657.28" y="1269.48" width="15.04" height="15.04"/>
<rect x="683.68" y="1269.48" width="15.04" height="15.04"/>
<rect x="654.18" y="1275.68" width="15.04" height="15.04"/>
<rect x="666.58" y="1274.18" width="15.04" height="15.04"/>
<rect x="678.28" y="1274.88" width="15.04" height="15.04"/>
<rect x="666.28" y="1281.18" width="15.04" height="15.04"/>
<path d="M749.6 1202.38L757.35 1217.42L741.85 1217.42Z"/>
<path d="M732.4 1228.98L740.15 1244.02L724.65 1244.02Z"/>
<path d="M756.3 1228.98L764.05 1244.02L748.55 1244.02Z"/>
<path d="M761.4 1228.98L769.15 1244.02L753.65 1244.02Z"/>
<path d="M737 1233.78L744.75 1248.82L729.25 1248.82Z"/>
<path d="M740.1 1240.78L747.85 1255.82L732.35 1255.82Z"/>
<path d="M744.8 1247.78L752.55 1262.82L737.05 1262.82Z"/>
<path d="M761.1 1245.88L768.85 1260.92L753.35 1260.92Z"/>
<path d="M755.8 1260.18L763.55 1275.22L748.05 1275.22Z"/>
<path d="M736.3 1270.28L744.05 1285.32L728.55 1285.32Z"/>
<path d="M762.8 1281.18L770.55 1296.22L755.05 1296.22Z"/>
<path d="M749.6 1291.38L757.35 1306.42L741.85 1306.42Z"/>
</g>
<rect x="1021.2" y="1250.8" width="52.7" height="150.3" fill="#5360AE" rx="1.5"/>
<rect x="1093.6" y="1208.9" width="52.7" height="192.2" fill="#E4737B" rx="1.5"/>
<rect x="1165.5" y="1216.9" width="52.5" height="184.2" fill="#808080" rx="1.5"/>
<line x1="1011.9" y1="1042.5" x2="1011.9" y2="1402.85" stroke="#000" stroke-width="3.5"/>
<line x1="1001.5" y1="1401.1" x2="1230" y2="1401.1" stroke="#000" stroke-width="3.5"/>
<line x1="1002.4" y1="1401.1" x2="1011.9" y2="1401.1" stroke="#000" stroke-width="3.2"/>
<text x="998.2" y="1410.52" font-size="26.3" text-anchor="end">0</text>
<line x1="1002.4" y1="1312" x2="1011.9" y2="1312" stroke="#000" stroke-width="3.2"/>
<text x="998.2" y="1321.42" font-size="26.3" text-anchor="end">500</text>
<line x1="1002.4" y1="1222.9" x2="1011.9" y2="1222.9" stroke="#000" stroke-width="3.2"/>
<text x="998.2" y="1232.32" font-size="26.3" text-anchor="end">1000</text>
<line x1="1002.4" y1="1133.8" x2="1011.9" y2="1133.8" stroke="#000" stroke-width="3.2"/>
<text x="998.2" y="1143.22" font-size="26.3" text-anchor="end">1500</text>
<line x1="1002.4" y1="1044.7" x2="1011.9" y2="1044.7" stroke="#000" stroke-width="3.2"/>
<text x="998.2" y="1054.12" font-size="26.3" text-anchor="end">2000</text>
<line x1="1047.3" y1="1401.1" x2="1047.3" y2="1411.1" stroke="#000" stroke-width="3.2"/>
<line x1="1119.9" y1="1401.1" x2="1119.9" y2="1411.1" stroke="#000" stroke-width="3.2"/>
<line x1="1191.8" y1="1401.1" x2="1191.8" y2="1411.1" stroke="#000" stroke-width="3.2"/>
<line x1="1047.3" y1="1244.9" x2="1047.3" y2="1257" stroke="#000" stroke-width="3.6"/>
<line x1="1036.3" y1="1244.9" x2="1058.3" y2="1244.9" stroke="#000" stroke-width="3.6"/>
<line x1="1036.3" y1="1257" x2="1058.3" y2="1257" stroke="#000" stroke-width="3.6"/>
<line x1="1119.9" y1="1196" x2="1119.9" y2="1222" stroke="#000" stroke-width="3.6"/>
<line x1="1108.9" y1="1196" x2="1130.9" y2="1196" stroke="#000" stroke-width="3.6"/>
<line x1="1108.9" y1="1222" x2="1130.9" y2="1222" stroke="#000" stroke-width="3.6"/>
<line x1="1191.8" y1="1208.3" x2="1191.8" y2="1225" stroke="#000" stroke-width="3.6"/>
<line x1="1180.8" y1="1208.3" x2="1202.8" y2="1208.3" stroke="#000" stroke-width="3.6"/>
<line x1="1180.8" y1="1225" x2="1202.8" y2="1225" stroke="#000" stroke-width="3.6"/>
<g fill="#000">
<circle cx="1036.6" cy="1216.4" r="7.75"/>
<circle cx="1058.6" cy="1218.5" r="7.75"/>
<circle cx="1047.3" cy="1241" r="7.75"/>
<circle cx="1036.4" cy="1258.9" r="7.75"/>
<circle cx="1041.9" cy="1262.7" r="7.75"/>
<circle cx="1055.1" cy="1263.5" r="7.75"/>
<circle cx="1064.4" cy="1260.4" r="7.75"/>
<circle cx="1058.9" cy="1267.4" r="7.75"/>
<circle cx="1036.7" cy="1287.6" r="7.75"/>
<rect x="1133.58" y="1154.58" width="15.04" height="15.04"/>
<rect x="1090.38" y="1165.28" width="15.04" height="15.04"/>
<rect x="1101.78" y="1168.08" width="15.04" height="15.04"/>
<rect x="1123.18" y="1169.48" width="15.04" height="15.04"/>
<rect x="1106.28" y="1186.28" width="15.04" height="15.04"/>
<rect x="1118.08" y="1188.58" width="15.04" height="15.04"/>
<rect x="1123.18" y="1205.98" width="15.04" height="15.04"/>
<rect x="1101.58" y="1211.58" width="15.04" height="15.04"/>
<rect x="1112.78" y="1213.08" width="15.04" height="15.04"/>
<rect x="1118.58" y="1215.88" width="15.04" height="15.04"/>
<rect x="1106.38" y="1219.68" width="15.04" height="15.04"/>
<rect x="1112.38" y="1260.18" width="15.04" height="15.04"/>
<rect x="1112.38" y="1291.08" width="15.04" height="15.04"/>
<path d="M1181.1 1170.68L1188.85 1185.72L1173.35 1185.72Z"/>
<path d="M1202.7 1168.98L1210.45 1184.02L1194.95 1184.02Z"/>
<path d="M1178.6 1187.68L1186.35 1202.72L1170.85 1202.72Z"/>
<path d="M1205 1185.48L1212.75 1200.52L1197.25 1200.52Z"/>
<path d="M1191.8 1195.58L1199.55 1210.62L1184.05 1210.62Z"/>
<path d="M1201.9 1202.28L1209.65 1217.32L1194.15 1217.32Z"/>
<path d="M1181.1 1215.88L1188.85 1230.92L1173.35 1230.92Z"/>
<path d="M1197.9 1215.88L1205.65 1230.92L1190.15 1230.92Z"/>
<path d="M1185.9 1219.78L1193.65 1234.82L1178.15 1234.82Z"/>
<path d="M1181.1 1228.68L1188.85 1243.72L1173.35 1243.72Z"/>
<path d="M1202.7 1243.28L1210.45 1258.32L1194.95 1258.32Z"/>
<path d="M1191.8 1299.18L1199.55 1314.22L1184.05 1314.22Z"/>
</g>
<path d="M1047 1132.2V1121.1H1110.8V1132.2" fill="none" stroke="#000" stroke-width="3.5" stroke-linejoin="round"/>
<text x="1079.1" y="1120.93" font-size="35" text-anchor="middle" stroke="#000" stroke-width="1.0" stroke-linejoin="round" letter-spacing="0">*</text>
<text x="3" y="38.2" font-size="50.5" text-anchor="start" font-weight="bold">A</text>
<text x="1005.8" y="41.4" font-size="50.5" text-anchor="start" font-weight="bold">B</text>
<text x="3.1" y="538.7" font-size="50.5" text-anchor="start" font-weight="bold">C</text>
<text x="1005.8" y="540.8" font-size="50.5" text-anchor="start" font-weight="bold">D</text>
<text x="1.7" y="1046.1" font-size="50.5" text-anchor="start" font-weight="bold">E</text>
<text x="455.9" y="1042.3" font-size="50.5" text-anchor="start" font-weight="bold">F</text>
<text x="884.9" y="1042.5" font-size="50.5" text-anchor="start" font-weight="bold">G</text>
<g fill="#000">
<circle cx="696.6" cy="109.9" r="7.25"/>
<rect x="689.57" y="139.87" width="14.06" height="14.06"/>
<path d="M696.6 177.17L703.85 191.23L689.35 191.23Z"/>
</g>
<text x="733.1" y="121" font-size="30.6" text-anchor="start">Control + PBS</text>
<text x="733.1" y="157.8" font-size="30.6" text-anchor="start">EtOH + PBS</text>
<text x="733.1" y="194.8" font-size="30.6" text-anchor="start">EtOH + ADSCs</text>
<g fill="#000">
<circle cx="1663.2" cy="112.1" r="7.25"/>
<rect x="1656.17" y="141.97" width="14.06" height="14.06"/>
<path d="M1663.2 178.97L1670.45 193.03L1655.95 193.03Z"/>
</g>
<text x="1698.7" y="122.9" font-size="30.6" text-anchor="start">Control + PBS</text>
<text x="1698.7" y="160.5" font-size="30.6" text-anchor="start">EtOH + PBS</text>
<text x="1698.7" y="197.1" font-size="30.6" text-anchor="start">EtOH + AMD3100</text>
<g fill="#000">
<circle cx="504.1" cy="603" r="7.4"/>
<rect x="496.92" y="633.42" width="14.36" height="14.36"/>
<path d="M504.1 671.42L511.5 685.78L496.7 685.78Z"/>
<path d="M504.1 723.68L511.5 709.32L496.7 709.32Z"/>
<path d="M504.1 746.8L511.5 754.2L504.1 761.6L496.7 754.2Z"/>
</g>
<text x="541.3" y="613.3" font-size="31.8" text-anchor="start">Control + PBS</text>
<text x="541.3" y="651.3" font-size="31.8" text-anchor="start">EtOH +PBS</text>
<text x="541.3" y="689.2" font-size="31.8" text-anchor="start">EtOH + ADSCs</text>
<text x="541.3" y="726.9" font-size="31.8" text-anchor="start">EtOH + AMD3100</text>
<text x="541.3" y="765.5" font-size="31.8" text-anchor="start">EtOH + ADSCs + AMD3100</text>
<g fill="#000">
<circle cx="1284.7" cy="1071.4" r="8"/>
<rect x="1276.94" y="1104.74" width="15.52" height="15.52"/>
<path d="M1284.7 1145.94L1292.7 1161.46L1276.7 1161.46Z"/>
</g>
<text x="1325.5" y="1083.5" font-size="34" text-anchor="start">Control+PBS</text>
<text x="1325.5" y="1124.6" font-size="34" text-anchor="start">EtOH+PBS</text>
<text x="1325.5" y="1166.3" font-size="34" text-anchor="start">EtOH+ADSC</text>
<text transform="translate(23,240.6) rotate(-90)" font-size="27.5" text-anchor="middle" textLength="231" lengthAdjust="spacingAndGlyphs">absolute number of</text>
<text transform="translate(61.8,243) rotate(-90)" font-size="27.5" text-anchor="middle" textLength="289.5" lengthAdjust="spacingAndGlyphs">CD11b<tspan font-size="20.9" dy="-10.45">+</tspan><tspan dy="10.45">​</tspan>Ly6G<tspan font-size="20.9" dy="-10.45">+</tspan><tspan dy="10.45">​</tspan>cells(10<tspan font-size="20.9" dy="-10.45">4</tspan><tspan dy="10.45">​</tspan>)</text>
<text transform="translate(357,247.2) rotate(-90)" font-size="27.5" text-anchor="middle" textLength="224" lengthAdjust="spacingAndGlyphs">absolute number of</text>
<text transform="translate(394.8,248.4) rotate(-90)" font-size="27.5" text-anchor="middle" textLength="419" lengthAdjust="spacingAndGlyphs">CD11b<tspan font-size="20.9" dy="-10.45">+</tspan><tspan dy="10.45">​</tspan>Ly6G<tspan font-size="20.9" dy="-10.45">+</tspan><tspan dy="10.45">​</tspan>CXCR4<tspan font-size="20.9" dy="-10.45">high</tspan><tspan dy="10.45">​</tspan> cells(10<tspan font-size="20.9" dy="-10.45">4</tspan><tspan dy="10.45">​</tspan>)</text>
<text transform="translate(1032.5,254.5) rotate(-90)" font-size="27.5" text-anchor="middle" textLength="216.5" lengthAdjust="spacingAndGlyphs">absolute number of</text>
<text transform="translate(1069.7,255.9) rotate(-90)" font-size="27.5" text-anchor="middle" textLength="417" lengthAdjust="spacingAndGlyphs">CD11b<tspan font-size="20.9" dy="-10.45">+</tspan><tspan dy="10.45">​</tspan>Ly6G<tspan font-size="20.9" dy="-10.45">+</tspan><tspan dy="10.45">​</tspan>CXCR4<tspan font-size="20.9" dy="-10.45">high</tspan><tspan dy="10.45">​</tspan> cells(10<tspan font-size="20.9" dy="-10.45">4</tspan><tspan dy="10.45">​</tspan>)</text>
<text transform="translate(1354.7,250.2) rotate(-90)" font-size="27.5" text-anchor="middle" textLength="315" lengthAdjust="spacingAndGlyphs">Vascular areas (pixel x10<tspan font-size="20.9" dy="-10.45">6</tspan><tspan dy="10.45">​</tspan>)</text>
<text transform="translate(24.3,741.2) rotate(-90)" font-size="27.5" text-anchor="middle" textLength="231.4" lengthAdjust="spacingAndGlyphs">absolute number of</text>
<text transform="translate(63,743.6) rotate(-90)" font-size="27.5" text-anchor="middle" textLength="296.4" lengthAdjust="spacingAndGlyphs">CD11b<tspan font-size="20.9" dy="-10.45">+</tspan><tspan dy="10.45">​</tspan>Ly6G<tspan font-size="20.9" dy="-10.45">+</tspan><tspan dy="10.45">​</tspan> cells(10<tspan font-size="20.9" dy="-10.45">4</tspan><tspan dy="10.45">​</tspan>)</text>
<text transform="translate(1036,737.8) rotate(-90)" font-size="27.5" text-anchor="middle" textLength="233.2" lengthAdjust="spacingAndGlyphs">absolute number of</text>
<text transform="translate(1075.5,739.6) rotate(-90)" font-size="27.5" text-anchor="middle" textLength="300.5" lengthAdjust="spacingAndGlyphs">CD11b<tspan font-size="20.9" dy="-10.45">+</tspan><tspan dy="10.45">​</tspan>Ly6G<tspan font-size="20.9" dy="-10.45">+</tspan><tspan dy="10.45">​</tspan> cells(10<tspan font-size="20.9" dy="-10.45">5</tspan><tspan dy="10.45">​</tspan>)</text>
<text transform="translate(1387.5,740.7) rotate(-90)" font-size="27.5" text-anchor="middle" textLength="228" lengthAdjust="spacingAndGlyphs">absolute number of</text>
<text transform="translate(1428,742.3) rotate(-90)" font-size="27.5" text-anchor="middle" textLength="425" lengthAdjust="spacingAndGlyphs">CD11b<tspan font-size="20.9" dy="-10.45">+</tspan><tspan dy="10.45">​</tspan>Ly6G<tspan font-size="20.9" dy="-10.45">+</tspan><tspan dy="10.45">​</tspan>CXCR4<tspan font-size="20.9" dy="-10.45">high</tspan><tspan dy="10.45">​</tspan> cells(10<tspan font-size="20.9" dy="-10.45">4</tspan><tspan dy="10.45">​</tspan>)</text>
<text transform="translate(85.7,1223.5) rotate(-90)" font-size="30" text-anchor="middle" textLength="378" lengthAdjust="spacingAndGlyphs"><tspan font-style="italic">cxcl-12</tspan> mRNA (fold change)</text>
<text transform="translate(506.4,1218.2) rotate(-90)" font-size="30" text-anchor="middle" textLength="220" lengthAdjust="spacingAndGlyphs">CXCL12 (pg/mL)</text>
<text transform="translate(925,1222) rotate(-90)" font-size="28.5" text-anchor="middle" textLength="202.8" lengthAdjust="spacingAndGlyphs">CXCL-12 (pg/mL)</text>
</svg>
</body></html>
